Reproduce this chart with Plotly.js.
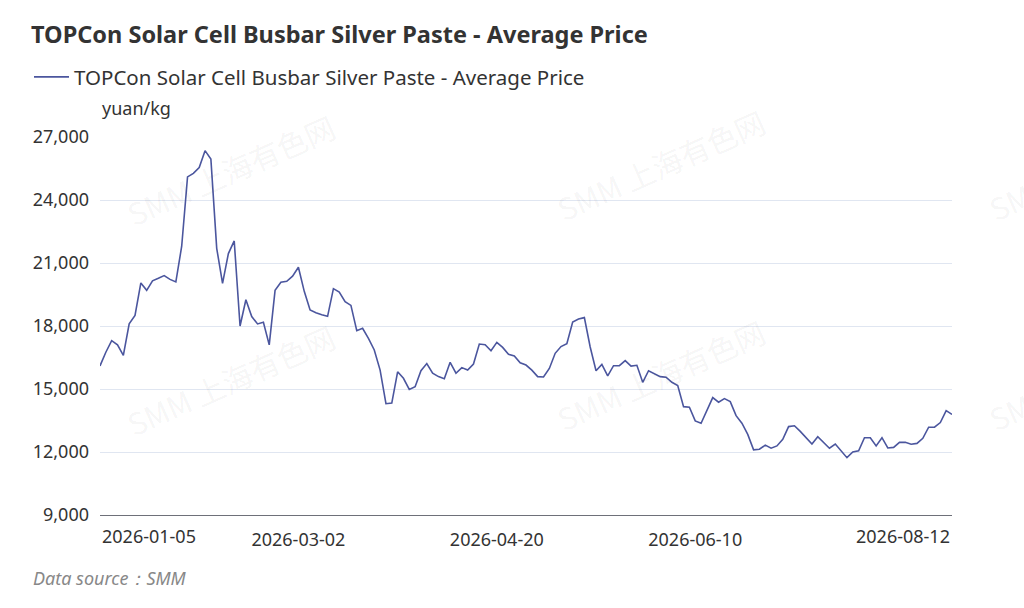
<!DOCTYPE html>
<html>
<head>
<meta charset="utf-8">
<script src="https://cdn.plot.ly/plotly-3.0.1.min.js"></script>
<style>
  html, body { margin: 0; padding: 0; background: #fff; }
  #myDiv { width: 1024px; height: 608px; }
</style>
</head>
<body>
<div id="myDiv"></div>
<script>
// trading days, Jan 5 - Aug 12 2026
var dates = [
  '2026-01-05','2026-01-06','2026-01-07','2026-01-08','2026-01-09',
  '2026-01-12','2026-01-13','2026-01-14','2026-01-15','2026-01-16',
  '2026-01-19','2026-01-20','2026-01-21','2026-01-22','2026-01-23',
  '2026-01-26','2026-01-27','2026-01-28','2026-01-29','2026-01-30',
  '2026-02-02','2026-02-03','2026-02-04','2026-02-05','2026-02-06',
  '2026-02-09','2026-02-10','2026-02-11','2026-02-12','2026-02-13',
  '2026-02-24','2026-02-25','2026-02-26','2026-02-27',
  '2026-03-02','2026-03-03','2026-03-04','2026-03-05','2026-03-06',
  '2026-03-09','2026-03-10','2026-03-11','2026-03-12','2026-03-13',
  '2026-03-16','2026-03-17','2026-03-18','2026-03-19','2026-03-20',
  '2026-03-23','2026-03-24','2026-03-25','2026-03-26','2026-03-27',
  '2026-03-30','2026-03-31','2026-04-01','2026-04-02','2026-04-03',
  '2026-04-07','2026-04-08','2026-04-09','2026-04-10',
  '2026-04-13','2026-04-14','2026-04-15','2026-04-16','2026-04-17',
  '2026-04-20','2026-04-21','2026-04-22','2026-04-23','2026-04-24',
  '2026-04-27','2026-04-28','2026-04-29','2026-04-30',
  '2026-05-06','2026-05-07','2026-05-08',
  '2026-05-11','2026-05-12','2026-05-13','2026-05-14','2026-05-15',
  '2026-05-18','2026-05-19','2026-05-20','2026-05-21','2026-05-22',
  '2026-05-25','2026-05-26','2026-05-27','2026-05-28','2026-05-29',
  '2026-06-01','2026-06-02','2026-06-03','2026-06-04','2026-06-05',
  '2026-06-08','2026-06-09','2026-06-10','2026-06-11','2026-06-12',
  '2026-06-15','2026-06-16','2026-06-17','2026-06-18',
  '2026-06-22','2026-06-23','2026-06-24','2026-06-25','2026-06-26',
  '2026-06-29','2026-06-30','2026-07-01','2026-07-02','2026-07-03',
  '2026-07-06','2026-07-07','2026-07-08','2026-07-09','2026-07-10',
  '2026-07-13','2026-07-14','2026-07-15','2026-07-16','2026-07-17',
  '2026-07-20','2026-07-21','2026-07-22','2026-07-23','2026-07-24',
  '2026-07-27','2026-07-28','2026-07-29','2026-07-30','2026-07-31',
  '2026-08-03','2026-08-04','2026-08-05','2026-08-06','2026-08-07',
  '2026-08-10','2026-08-11','2026-08-12'
];

var avgPrice = [
  16100, 16750, 17300, 17100, 16600, 18100, 18500, 20050, 19700, 20150,
  20270, 20400, 20220, 20100, 21800, 25100, 25270, 25550, 26350, 25950,
  21700, 20030, 21450, 22050, 18000, 19250, 18450, 18100, 18180, 17100,
  19700, 20080, 20130, 20370, 20800, 19650, 18760, 18630, 18540, 18460,
  19780, 19620, 19160, 18980, 17780, 17890, 17410, 16860, 15900, 14300,
  14330, 15820, 15510, 14980, 15110, 15870, 16210, 15750, 15590, 15490,
  16270, 15750, 16020, 15900, 16190, 17140, 17110, 16820, 17220, 16980,
  16650, 16570, 16250, 16140, 15900, 15590, 15570, 15980, 16700, 17020,
  17160, 18190, 18330, 18400, 17000, 15870, 16170, 15620, 16110, 16110,
  16350, 16090, 16130, 15320, 15870, 15710, 15590, 15560, 15320, 15160,
  14160, 14130, 13480, 13370, 13950, 14590, 14370, 14540, 14400, 13730,
  13370, 12840, 12100, 12130, 12330, 12180, 12290, 12600, 13210, 13250,
  12980, 12700, 12380, 12730, 12440, 12180, 12380, 12060, 11730, 12000,
  12060, 12680, 12680, 12290, 12680, 12190, 12220, 12460, 12460, 12370,
  12410, 12650, 13180, 13180, 13400, 13970, 13790
];

var tickLabels = ['2026-01-05', '2026-03-02', '2026-04-20', '2026-06-10', '2026-08-12'];
var seriesName = 'TOPCon Solar Cell Busbar Silver Paste - Average Price';

var FONT = 'Noto Sans, Open Sans, sans-serif';

var trace = {
  x: dates,
  y: avgPrice,
  type: 'scatter',
  mode: 'lines',
  name: seriesName,
  line: { color: '#4B569E', width: 1.6 }
};

// SMM watermark grid (pixel centres)
var marks = [];
var markPos = [[230, 170], [660, 165], [1092, 165], [230, 380], [660, 375], [1092, 375]];
markPos.forEach(function (p) {
  marks.push({
    text: 'SMM 上海有色网',
    xref: 'paper', yref: 'paper',
    x: (p[0] - 100) / 852, y: (515 - p[1]) / 378,
    xanchor: 'center', yanchor: 'middle',
    showarrow: false, textangle: -24,
    font: { family: 'Noto Sans CJK SC, Noto Sans, sans-serif', size: 30, color: 'rgba(0,0,0,0.055)' }
  });
});

var notes = marks.concat([
  {
    text: 'yuan/kg', xref: 'paper', yref: 'paper', x: 0, y: (515 - 108) / 378,
    xanchor: 'left', yanchor: 'middle', showarrow: false,
    font: { family: FONT, size: 18, color: '#333' }
  },
  {
    text: tickLabels[0], xref: 'x', yref: 'paper', x: tickLabels[0], y: (515 - 536) / 378,
    xanchor: 'left', yanchor: 'middle', showarrow: false,
    font: { family: FONT, size: 18, color: '#333' }
  },
  {
    text: tickLabels[4], xref: 'x', yref: 'paper', x: tickLabels[4], y: (515 - 536) / 378,
    xanchor: 'right', yanchor: 'middle', showarrow: false,
    font: { family: FONT, size: 18, color: '#333' }
  },
  {
    text: 'Data source：SMM', xref: 'paper', yref: 'paper', x: (31 - 100) / 852, y: (515 - 578) / 378,
    xanchor: 'left', yanchor: 'middle', showarrow: false,
    font: { family: FONT, size: 18, color: '#888', style: 'italic' }
  }
]);

var layout = {
  width: 1024,
  height: 608,
  margin: { l: 100, r: 72, t: 137, b: 93 },
  paper_bgcolor: '#fff',
  plot_bgcolor: '#fff',
  title: {
    text: '<b>' + seriesName + '</b>',
    xref: 'container', yref: 'container',
    x: 31 / 1024, xanchor: 'left',
    y: 1 - 35 / 608, yanchor: 'middle',
    font: { family: FONT, size: 23.5, color: '#333' }
  },
  showlegend: true,
  legend: {
    orientation: 'h',
    xref: 'container', yref: 'container',
    x: 29 / 1024, xanchor: 'left',
    y: 1 - 77 / 608, yanchor: 'middle',
    itemwidth: 35,
    font: { family: FONT, size: 20.5, color: '#333' },
    bgcolor: 'rgba(0,0,0,0)'
  },
  xaxis: {
    type: 'category',
    range: [0, dates.length - 1],
    showgrid: false,
    zeroline: false,
    showline: true,
    linecolor: '#6E7079',
    linewidth: 1,
    ticks: '',
    tickvals: tickLabels.slice(1, 4),
    ticktext: tickLabels.slice(1, 4),
    ticklabelstandoff: 8,
    tickfont: { family: FONT, size: 18, color: '#333' }
  },
  yaxis: {
    range: [9000, 27000],
    dtick: 3000,
    tick0: 9000,
    tickformat: ',d',
    showgrid: true,
    gridcolor: '#E0E6F1',
    zeroline: false,
    showline: false,
    ticks: '',
    ticklabelstandoff: 10,
    tickfont: { family: FONT, size: 18, color: '#333' }
  },
  annotations: notes
};

Plotly.newPlot('myDiv', [trace], layout, { displayModeBar: false, staticPlot: true });
</script>
</body>
</html>
